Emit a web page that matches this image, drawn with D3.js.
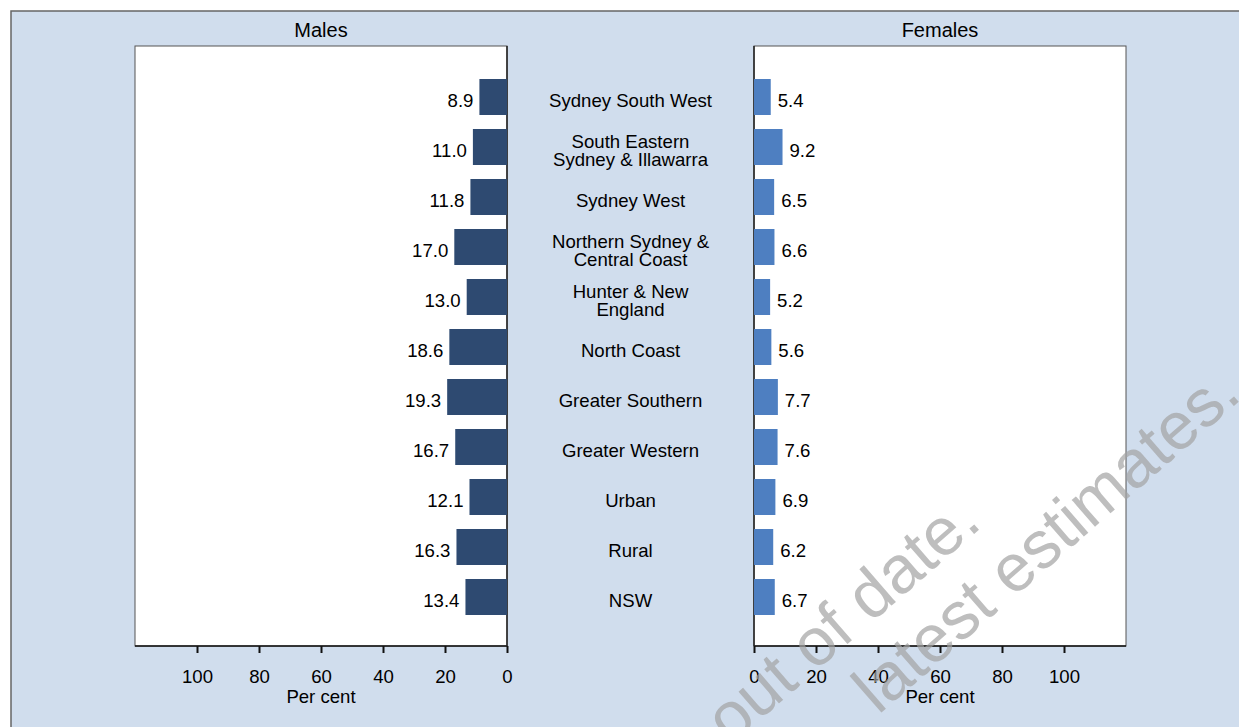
<!DOCTYPE html>
<html>
<head>
<meta charset="utf-8">
<script src="https://cdn.jsdelivr.net/npm/d3@7"></script>
<style>
  html, body { margin: 0; padding: 0; background: #ffffff; }
  svg { display: block; }
  text { font-family: "Liberation Sans", Arial, sans-serif; fill: #000; }
</style>
</head>
<body>
<svg id="chart" width="1239" height="727"></svg>
<script>
// ---- data ----
const categories = [
  ["Sydney South West"],
  ["South Eastern", "Sydney & Illawarra"],
  ["Sydney West"],
  ["Northern Sydney &", "Central Coast"],
  ["Hunter & New", "England"],
  ["North Coast"],
  ["Greater Southern"],
  ["Greater Western"],
  ["Urban"],
  ["Rural"],
  ["NSW"]
];
const males   = [8.9, 11.0, 11.8, 17.0, 13.0, 18.6, 19.3, 16.7, 12.1, 16.3, 13.4];
const females = [5.4, 9.2, 6.5, 6.6, 5.2, 5.6, 7.7, 7.6, 6.9, 6.2, 6.7];
const tickValues = [0, 20, 40, 60, 80, 100];
const panelTitles = ["Males", "Females"];
const axisTitle = "Per cent";
const watermark = ["out of date.", "latest estimates."];

// ---- layout ----
const svg = d3.select("#chart");
const W = 1239, H = 727;
const panelTop = 46, panelBottom = 646;
const FS = "18.6px";
const keys = categories.map((c, i) => i);

svg.append("rect").attr("x", 11).attr("y", 11).attr("width", W).attr("height", H)
  .attr("fill", "#d0dded").attr("stroke", "#666").attr("stroke-width", 1.5);

const y = d3.scaleBand().domain(keys).range([72, 622]).paddingInner(0.28).paddingOuter(0.14);
const xM = d3.scaleLinear().domain([0, 120]).range([507, 135]);
const xF = d3.scaleLinear().domain([0, 120]).range([754, 1126]);

function panel(x, title) {
  const a = Math.min(...x.range()), b = Math.max(...x.range());
  svg.append("rect").attr("x", a).attr("y", panelTop).attr("width", b - a).attr("height", panelBottom - panelTop)
    .attr("fill", "#ffffff").attr("stroke", "#555").attr("stroke-width", 1);
  svg.append("text").attr("x", (a + b) / 2).attr("y", 37).attr("text-anchor", "middle")
    .style("font-size", "20px").text(title);
  const ax = svg.append("g").attr("transform", `translate(0,${panelBottom})`)
    .call(d3.axisBottom(x).tickValues(tickValues).tickSize(7).tickPadding(17).tickFormat(d3.format("d")));
  ax.select(".domain").attr("stroke", "#111").attr("stroke-width", 1.5).attr("d", `M${a},0H${b}`);
  ax.selectAll(".tick line").attr("stroke", "#111").attr("stroke-width", 2);
  ax.selectAll(".tick text").style("font-size", FS).attr("font-family", "Liberation Sans, Arial, sans-serif").attr("fill", "#000");
  svg.append("text").attr("x", (a + b) / 2).attr("y", 703).attr("text-anchor", "middle")
    .style("font-size", FS).text(axisTitle);
  svg.append("line").attr("x1", x(0)).attr("x2", x(0)).attr("y1", panelTop).attr("y2", panelBottom)
    .attr("stroke", "#222").attr("stroke-width", 1.5);
}
panel(xM, panelTitles[0]);
panel(xF, panelTitles[1]);

// male bars
svg.append("g").selectAll("rect").data(males).join("rect")
  .attr("x", d => xM(d)).attr("y", (d, i) => y(i))
  .attr("width", d => xM(0) - xM(d)).attr("height", y.bandwidth())
  .attr("fill", "#2e4a71");
svg.append("g").selectAll("text").data(males).join("text")
  .attr("x", d => xM(d) - 6).attr("y", (d, i) => y(i) + y.bandwidth() / 2 + 10)
  .attr("text-anchor", "end").style("font-size", FS)
  .text(d => d.toFixed(1));

// female bars
svg.append("g").selectAll("rect").data(females).join("rect")
  .attr("x", xF(0)).attr("y", (d, i) => y(i))
  .attr("width", d => xF(d) - xF(0)).attr("height", y.bandwidth())
  .attr("fill", "#4e7fc1");
svg.append("g").selectAll("text").data(females).join("text")
  .attr("x", d => xF(d) + 7).attr("y", (d, i) => y(i) + y.bandwidth() / 2 + 10)
  .attr("text-anchor", "start").style("font-size", FS)
  .text(d => d.toFixed(1));

// category labels
const cx = (xM(0) + xF(0)) / 2;
const lab = svg.append("g").selectAll("text").data(categories).join("text")
  .attr("x", cx).attr("text-anchor", "middle").style("font-size", FS)
  .attr("y", (d, i) => {
    const c = y(i) + y.bandwidth() / 2;
    return d.length === 1 ? c + 10 : c + 1.25;
  });
lab.selectAll("tspan").data(d => d).join("tspan")
  .attr("x", cx).attr("dy", (d, j) => j === 0 ? 0 : 17.5).text(d => d);

// watermark
const wm = svg.append("g").attr("transform", "translate(982,527) rotate(-41)");
wm.append("text").attr("x", 2).attr("y", 0).attr("text-anchor", "end")
  .style("font-size", "67px").style("fill", "#a2a2a2").style("fill-opacity", 0.7).text(watermark[0]);
wm.append("text").attr("x", 282).attr("y", 74).attr("text-anchor", "end")
  .style("font-size", "67px").style("fill", "#a2a2a2").style("fill-opacity", 0.7).text(watermark[1]);
</script>
</body>
</html>
